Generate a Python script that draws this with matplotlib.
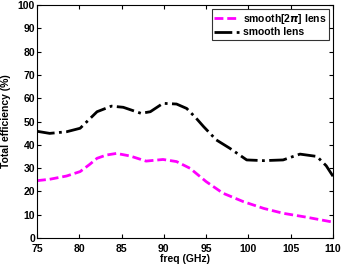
import matplotlib
matplotlib.use('Agg')
import matplotlib.pyplot as plt

plt.rcParams['font.family'] = ['Liberation Sans', 'DejaVu Sans']
plt.rcParams['font.weight'] = 'bold'

freq_2pi = [75.0, 76.5, 78.5, 80.1, 81.2, 82.1, 83.2, 84.4, 86.0, 87.9, 89.9, 91.5, 93.1,
            95.0, 97.0, 99.4, 101.8, 104.1, 106.9, 110.0]
eff_2pi = [24.6, 25.2, 26.6, 28.5, 31.5, 34.2, 35.6, 36.3, 35.2, 33.0, 33.7, 32.8, 29.9,
           24.2, 19.2, 15.6, 12.7, 10.6, 8.9, 6.8]

freq_smooth = [75.0, 76.5, 78.5, 80.1, 81.2, 82.1, 83.8, 85.2, 87.3, 88.4, 89.9, 91.5,
               92.7, 93.8, 94.7, 96.2, 97.8, 99.8, 101.8, 104.1, 106.1, 108.1, 109.2, 110.0]
eff_smooth = [45.8, 44.9, 45.6, 47.1, 51.0, 54.2, 56.6, 56.1, 53.5, 54.2, 57.8, 57.5,
              55.6, 51.5, 47.8, 42.1, 38.5, 33.5, 33.2, 33.5, 36.0, 35.0, 31.0, 26.5]

fig = plt.figure(figsize=(3.41, 2.65), dpi=100)
ax = fig.add_axes([0.1085, 0.102, 0.868, 0.879])

ax.plot(freq_2pi, eff_2pi, color='#ff00ff', lw=2, dashes=(3.2, 1.4),
        label=r'smooth[2$\pi$] lens')
ax.plot(freq_smooth, eff_smooth, color='black', lw=2, ls='-.',
        label='smooth lens')

ax.set_xlim(75, 110)
ax.set_ylim(0, 100)
ax.set_xticks(range(75, 111, 5))
ax.set_yticks(range(0, 101, 10))
ax.tick_params(direction='in', top=True, right=True, labelsize=7.5, length=3)
ax.tick_params(axis='x', pad=4)
ax.tick_params(axis='y', pad=1.5)
for lab in ax.get_xticklabels() + ax.get_yticklabels():
    lab.set_fontweight('bold')
ax.set_xlabel('freq (GHz)', fontsize=7.5, fontweight='bold', labelpad=0.5)
ax.set_ylabel('Total efficiency (%)', fontsize=7.5, fontweight='bold', labelpad=5)

leg = ax.legend(loc='upper right', fontsize=7.5, frameon=True, fancybox=False,
                handlelength=2.4, borderpad=0.25, labelspacing=0.15,
                handletextpad=0.3, borderaxespad=0.4)
leg.get_frame().set_edgecolor('black')
leg.get_frame().set_linewidth(0.8)
for t in leg.get_texts():
    t.set_fontweight('bold')

fig.savefig('out.png', dpi=100)
